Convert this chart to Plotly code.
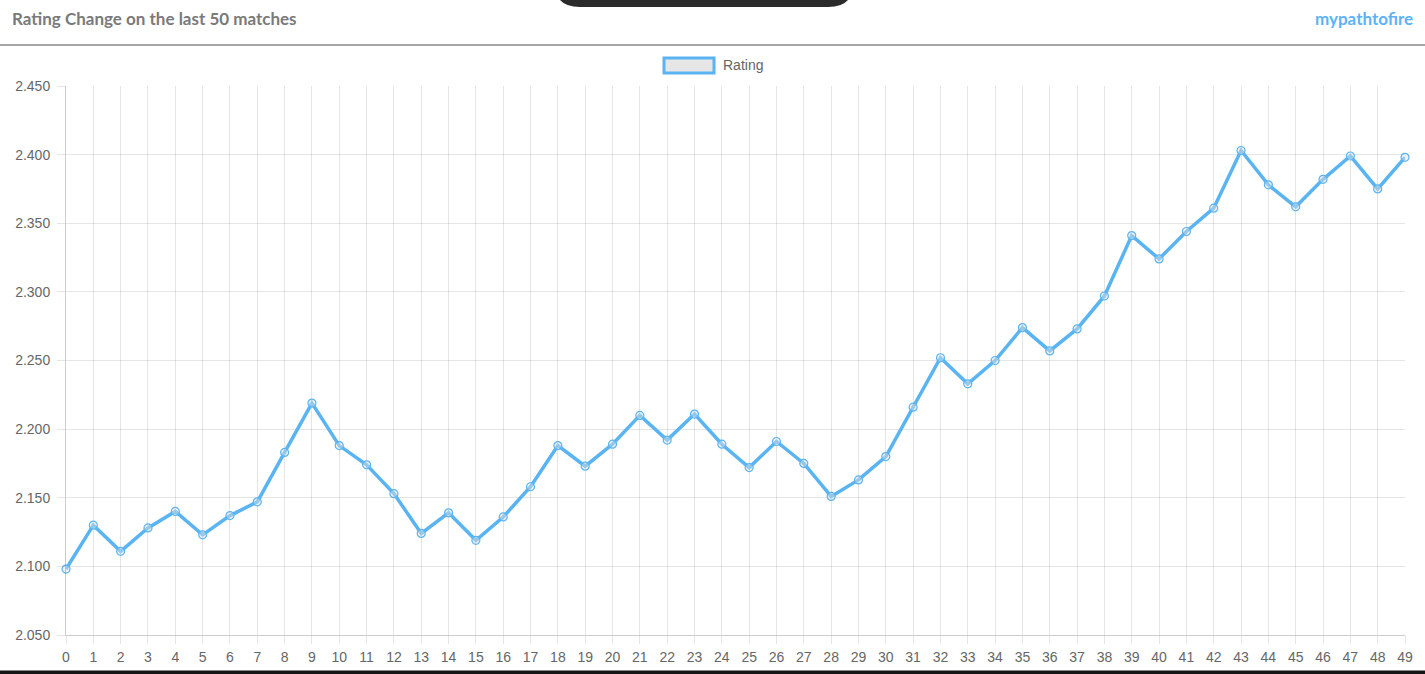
import plotly.graph_objects as go

matches = list(range(50))
rating = [2098, 2130, 2111, 2128, 2140, 2123, 2137, 2147, 2183, 2219,
          2188, 2174, 2153, 2124, 2139, 2119, 2136, 2158, 2188, 2173,
          2189, 2210, 2192, 2211, 2189, 2172, 2191, 2175, 2151, 2163,
          2180, 2216, 2252, 2233, 2250, 2274, 2257, 2273, 2297, 2341,
          2324, 2344, 2361, 2403, 2378, 2362, 2382, 2399, 2375, 2398]
series_name = "Rating"
title_text = "Rating Change on the last 50 matches"
brand_text = "mypathtofire"

W, H = 1425, 674
L, R, T, B = 66, 20, 86, 39
PW, PH = W - L - R, H - T - B

def px(x):
    return (x - L) / PW

def py(y):
    return (H - B - y) / PH

BLUE = "#5ab4f2"
GRID = "rgba(0,0,0,0.1)"

fig = go.Figure()
fig.add_trace(go.Scatter(
    x=matches, y=rating, name=series_name, mode="lines+markers",
    line=dict(color=BLUE, width=3.5),
    marker=dict(symbol="circle", size=8, color="rgba(225,225,225,0.45)",
                line=dict(color=BLUE, width=1.2)),
    showlegend=False, cliponaxis=False,
))

axis_font = dict(family="Liberation Sans, Arial, sans-serif", size=14, color="#666")

fig.update_layout(
    width=W, height=H,
    margin=dict(l=L, r=R, t=T, b=B, autoexpand=False),
    paper_bgcolor="white", plot_bgcolor="white",
    separators=",.",
    xaxis=dict(range=[0, 49], tickmode="linear", dtick=1, showgrid=True,
               gridcolor=GRID, gridwidth=1, ticks="outside", ticklen=8,
               tickcolor=GRID, tickfont=axis_font, zeroline=False,
               ticklabelstandoff=1, automargin=False,
               showline=True, linecolor="rgba(0,0,0,0.2)", linewidth=1),
    yaxis=dict(range=[2050, 2450], tickmode="linear", dtick=50, tick0=2050,
               tickformat=",d", showgrid=True, gridcolor=GRID, gridwidth=1,
               ticks="outside", ticklen=8, tickcolor=GRID, tickfont=axis_font,
               ticklabelstandoff=4, automargin=False,
               zeroline=False, showline=True, linecolor="rgba(0,0,0,0.2)",
               linewidth=1),
    showlegend=False,
)

shapes = [
    # header separator line
    dict(type="line", xref="paper", yref="paper", x0=px(0), x1=px(W),
         y0=py(45), y1=py(45), line=dict(color="#888", width=1.5)),
    # custom legend box
    dict(type="rect", xref="paper", yref="paper", x0=px(664), x1=px(714),
         y0=py(73), y1=py(58), fillcolor="#e6e6e6",
         line=dict(color=BLUE, width=3)),
    # top dark overlay
    dict(type="path", xref="paper", yref="paper",
         path=(f"M {px(560)} {py(-2)} L {px(560)} {py(0)} "
               f"Q {px(566)} {py(7)} {px(580)} {py(7)} "
               f"L {px(828)} {py(7)} Q {px(842)} {py(7)} {px(848)} {py(0)} "
               f"L {px(848)} {py(-2)} Z"),
         fillcolor="#2b2b2b", line=dict(width=0)),
    # bottom dark bar
    dict(type="rect", xref="paper", yref="paper", x0=px(0), x1=px(W),
         y0=py(676), y1=py(670.5), fillcolor="#151515", line=dict(width=0)),
]
fig.update_layout(shapes=shapes)

annotations = [
    dict(text=f"<b>{title_text}</b>", xref="paper", yref="paper",
         x=px(10), y=py(19), xanchor="left", yanchor="middle", showarrow=False,
         font=dict(family="Lato", size=17, color="#7a7a7a")),
    dict(text=f"<b>{brand_text}</b>", xref="paper", yref="paper",
         x=px(1415), y=py(19), xanchor="right", yanchor="middle", showarrow=False,
         font=dict(family="Lato", size=17, color="#5cb3f7")),
    dict(text=series_name, xref="paper", yref="paper",
         x=px(721), y=py(65), xanchor="left", yanchor="middle", showarrow=False,
         font=dict(family="Liberation Sans, Arial, sans-serif", size=14, color="#666")),
]
fig.update_layout(annotations=annotations)

fig.write_html("out.html", config={"displayModeBar": False},
               post_script="document.body.style.margin='0';document.body.style.overflow='hidden';")
